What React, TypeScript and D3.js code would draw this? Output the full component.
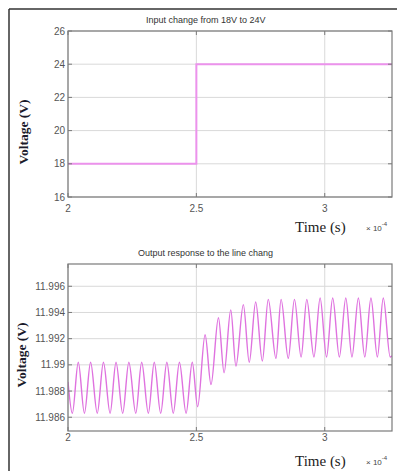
import React from "react";
import * as d3 from "d3";

const inputTime = [2, 2.5, 3.262];
const inputVoltage = [18, 24, 24];

const outputTime = [
  2.0, 2.017, 2.04, 2.064, 2.088, 2.114, 2.138, 2.164, 2.187, 2.213, 2.237,
  2.264, 2.287, 2.313, 2.336, 2.361, 2.385, 2.41, 2.434, 2.46, 2.484, 2.505,
  2.534, 2.557, 2.586, 2.608, 2.634, 2.654, 2.683, 2.706, 2.731, 2.757, 2.78,
  2.81, 2.83, 2.858, 2.882, 2.908, 2.93, 2.958, 2.982, 3.007, 3.031, 3.057,
  3.082, 3.106, 3.131, 3.156, 3.18, 3.205, 3.228, 3.255, 3.262,
];
const outputVoltage = [
  11.9887, 11.9863, 11.9902, 11.9863, 11.9902, 11.9863, 11.9902, 11.9863,
  11.9902, 11.9863, 11.9902, 11.9863, 11.9902, 11.9863, 11.9902, 11.9863,
  11.9902, 11.9863, 11.9902, 11.9863, 11.9902, 11.9868, 11.9923, 11.9885,
  11.9936, 11.9894, 11.9942, 11.9899, 11.9946, 11.9902, 11.9948, 11.9903,
  11.995, 11.9905, 11.995, 11.9905, 11.995, 11.9906, 11.995, 11.9906,
  11.9951, 11.9906, 11.9951, 11.9906, 11.9951, 11.9906, 11.9951, 11.9906,
  11.9951, 11.9906, 11.9951, 11.9906, 11.9907,
];

const xTicks = [2, 2.5, 3];
const xTickLabels = ["2", "2.5", "3"];
const topYTicks = [16, 18, 20, 22, 24, 26];
const bottomYTicks = [11.986, 11.988, 11.99, 11.992, 11.994, 11.996];
const bottomYTickLabels = ["11.986", "11.988", "11.99", "11.992", "11.994", "11.996"];

const topTitle = "Input change from 18V to 24V";
const bottomTitle = "Output response to the line chang";
const yLabel = "Voltage (V)";
const xLabel = "Time (s)";

const L = 68;
const R = 392;

type PanelProps = {
  top: number;
  bottom: number;
  yDomain: [number, number];
  yTicks: number[];
  yTickLabels: string[];
  times: number[];
  values: number[];
  curve: d3.CurveFactory;
  color: string;
  width: number;
  title: string;
  titleX: number;
  titleClipR: number;
  labelX: number;
  labelY: number;
  xTickY: number;
  id: string;
};

function Panel(p: PanelProps) {
  const x = d3.scaleLinear().domain([2, 3.262]).range([L, R]);
  const y = d3.scaleLinear().domain(p.yDomain).range([p.bottom, p.top]);
  const pts = p.times.map((t, i) => [t, p.values[i]] as [number, number]);
  const line = d3
    .line<[number, number]>()
    .x((d) => x(d[0]))
    .y((d) => y(d[1]))
    .curve(p.curve);
  const axisColor = "#7a7a7a";
  const gridColor = "#d9d9d9";
  const tickLen = 4;
  return (
    <g>
      <defs>
        <clipPath id={p.id}>
          <rect x={L} y={p.top} width={R - L} height={p.bottom - p.top} />
        </clipPath>
        <clipPath id={p.id + "t"}>
          <rect x={0} y={p.top - 30} width={p.titleClipR} height={30} />
        </clipPath>
      </defs>
      {p.yTicks.map((v) => (
        <line key={"gy" + v} x1={L} x2={R} y1={y(v)} y2={y(v)} stroke={gridColor} strokeWidth={1} />
      ))}
      {xTicks.map((v) => (
        <line key={"gx" + v} x1={x(v)} x2={x(v)} y1={p.top} y2={p.bottom} stroke={gridColor} strokeWidth={1} />
      ))}
      <path d={line(pts) || ""} fill="none" stroke={p.color} strokeWidth={p.width} clipPath={`url(#${p.id})`} />
      <rect x={L} y={p.top} width={R - L} height={p.bottom - p.top} fill="none" stroke={axisColor} strokeWidth={1.2} />
      {p.yTicks.map((v) => (
        <g key={"ty" + v}>
          <line x1={L} x2={L + tickLen} y1={y(v)} y2={y(v)} stroke={axisColor} />
          <line x1={R} x2={R - tickLen} y1={y(v)} y2={y(v)} stroke={axisColor} />
        </g>
      ))}
      {xTicks.map((v) => (
        <g key={"tx" + v}>
          <line x1={x(v)} x2={x(v)} y1={p.bottom} y2={p.bottom - tickLen} stroke={axisColor} />
          <line x1={x(v)} x2={x(v)} y1={p.top} y2={p.top + tickLen} stroke={axisColor} />
        </g>
      ))}
      {p.yTicks.map((v, i) => (
        <text key={"ly" + v} x={65} y={y(v) + 3.5} textAnchor="end" fontSize={10} fontFamily="Liberation Sans, Arial, sans-serif" fill="#555">
          {p.yTickLabels[i]}
        </text>
      ))}
      {xTicks.map((v, i) => (
        <text key={"lx" + v} x={x(v)} y={p.xTickY} textAnchor="middle" fontSize={10} fontFamily="Liberation Sans, Arial, sans-serif" fill="#555">
          {xTickLabels[i]}
        </text>
      ))}
      <text x={p.titleX} y={p.top - 8} fontSize={9} fontFamily="Liberation Sans, Arial, sans-serif" fill="#333" clipPath={`url(#${p.id}t)`}>
        {p.title}
      </text>
      <text
        transform={`translate(${p.labelX},${p.labelY}) rotate(-90)`}
        textAnchor="middle"
        fontSize={13.5}
        fontWeight={600}
        fontFamily="Liberation Serif, Times New Roman, serif"
        fill="#1a1a2a"
      >
        {yLabel}
      </text>
      <text x={295} y={p.bottom + 35} fontSize={15} fontFamily="Liberation Serif, Times New Roman, serif" fill="#222">
        {xLabel}
      </text>
      <text x={366} y={p.bottom + 34} fontSize={8} fontFamily="Liberation Sans, Arial, sans-serif" fill="#444">
        × 10
        <tspan dy={-5} fontSize={6}>-4</tspan>
      </text>
    </g>
  );
}

export default function App() {
  return (
    <svg width={397} height={471} style={{ position: "absolute", left: 0, top: 0, background: "#fff" }}>
      <rect x={0} y={0} width={397} height={471} fill="#fff" />
      <line x1={9} x2={397} y1={9} y2={9} stroke="#333" strokeWidth={1.5} />
      <line x1={9} x2={9} y1={9} y2={471} stroke="#333" strokeWidth={1.5} />
      <Panel
        id="c1"
        top={31}
        bottom={197}
        yDomain={[16, 26]}
        yTicks={topYTicks}
        yTickLabels={topYTicks.map(String)}
        times={inputTime}
        values={inputVoltage}
        curve={d3.curveStepAfter}
        color="#ec92ec"
        width={2}
        title={topTitle}
        titleX={146}
        titleClipR={397}
        labelX={28}
        labelY={132}
        xTickY={212}
      />
      <Panel
        id="c2"
        top={264}
        bottom={431}
        yDomain={[11.98495, 11.9977]}
        yTicks={bottomYTicks}
        yTickLabels={bottomYTickLabels}
        times={outputTime}
        values={outputVoltage}
        curve={d3.curveMonotoneX}
        color="#df72df"
        width={1.4}
        title={bottomTitle}
        titleX={138}
        titleClipR={283}
        labelX={26}
        labelY={355}
        xTickY={441}
      />
    </svg>
  );
}
